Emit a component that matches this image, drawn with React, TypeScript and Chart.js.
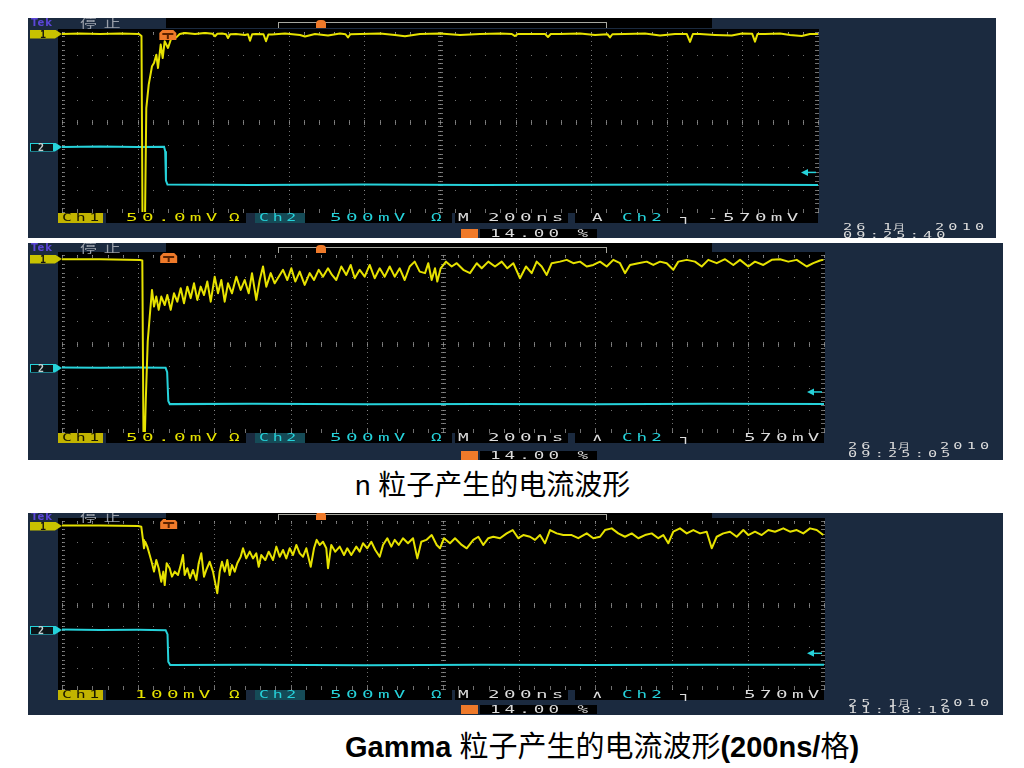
import React, { useEffect, useRef } from "react";
import { Chart, registerables } from "chart.js";
Chart.register(...registerables);

type Pt = [number, number];

// x: time in ns (200 ns/div, 10 div); y: screen divisions (-4..4)
const TIME_MIN = 0;
const TIME_MAX = 2000;
const DIV_MIN = -4;
const DIV_MAX = 4;

// ---- n particle, fast recovery (panel 1) ----
const nFastCh1: Pt[] = [
  [0, 3.91], [47.6, 3.93], [100.5, 3.91], [153.4, 3.93], [203.7, 3.91], [210.3, 3.82], [213, -4.3], [219.6, -4.3],
  [223, 0.62], [229.4, 1.66], [238.1, 2.48], [243.4, 2.62], [249.5, 2.99], [254, 2.4], [261.1, 3.44], [266.4, 2.84],
  [271.7, 3.59], [280.4, 3.29], [289.2, 3.73], [302.4, 3.76], [311.4, 3.91], [324.6, 3.96], [351.9, 3.91], [378.3, 3.96],
  [398, 3.92], [404.8, 3.81], [411, 3.92], [423.3, 3.93], [434, 3.9], [439.2, 3.73], [445, 3.9], [460.3, 3.91],
  [484.1, 3.87], [492, 3.9], [497.4, 3.61], [503, 3.9], [513.2, 3.91], [533, 3.9], [539.7, 3.59], [546, 3.89],
  [555.6, 3.89], [590, 3.93], [629.6, 3.87], [642.9, 3.8], [669.3, 3.91], [703.7, 3.84], [735.4, 3.93], [750, 3.9],
  [756.6, 3.76], [763, 3.9], [788.4, 3.91], [841.3, 3.93], [881, 3.87], [907.4, 3.81], [947.1, 3.91], [1000, 3.93],
  [1052.9, 3.87], [1105.8, 3.91], [1158.7, 3.93], [1190, 3.91], [1198.4, 3.82], [1206, 3.91], [1238.1, 3.91], [1278, 3.91],
  [1285.7, 3.78], [1293, 3.91], [1317.5, 3.91], [1370.4, 3.93], [1410.1, 3.87], [1443, 3.9], [1449.7, 3.76], [1456, 3.9],
  [1489.4, 3.91], [1542.3, 3.93], [1582, 3.84], [1621.7, 3.91], [1653, 3.91], [1661.4, 3.56], [1669, 3.91], [1687.8, 3.91],
  [1727.5, 3.87], [1771.7, 3.84], [1798.9, 3.93], [1826, 3.92], [1833.3, 3.57], [1840, 3.91], [1859.8, 3.91], [1899.5, 3.93],
  [1925.9, 3.87], [1956.9, 3.82], [1978.8, 3.91], [2000, 3.91],
];
const nFastCh2: Pt[] = [
  [0, -1.11], [100, -1.09], [200, -1.11], [270, -1.1], [273, -1.3], [275, -2.6], [279, -2.78], [500, -2.8],
  [800, -2.78], [1100, -2.8], [1400, -2.79], [1700, -2.78], [2000, -2.8],
];

// ---- n particle, slow recovery (panel 2) ----
const nSlowCh1: Pt[] = [
  [0, 3.81], [99.7, 3.81], [204.7, 3.77], [210.8, 3.75], [213.9, -4.4], [217.1, -4.4], [220, -2.5], [225, 0.1],
  [230.2, 1.21], [236.2, 2.42], [241.5, 1.67], [247.5, 2.12], [253.8, 1.52], [260.6, 2.12], [269.6, 1.74], [276.4, 2.19],
  [285.3, 1.52], [294, 2.27], [302.6, 1.89], [311.6, 2.5], [320.2, 1.82], [328.9, 2.57], [337.8, 2.05], [346.5, 2.72],
  [355.1, 1.97], [364, 2.57], [372.7, 2.19], [381.4, 2.8], [390.3, 1.89], [400.8, 3.02], [409.5, 2.27], [418.1, 2.87],
  [427, 1.89], [435.7, 2.72], [446.2, 2.27], [457.5, 3.02], [469, 2.42], [479.5, 2.87], [490, 2.27], [498.7, 3.18],
  [510, 1.97], [518.9, 2.87], [527.6, 3.48], [536.2, 2.57], [547.8, 3.18], [558.3, 2.72], [568.8, 3.02], [580.1, 3.33],
  [591.4, 2.87], [601.9, 3.4], [612.3, 2.8], [623.9, 3.25], [637, 2.65], [650.1, 3.18], [661.4, 2.87], [673.7, 3.33],
  [685, 3.02], [698.2, 3.4], [708.7, 3.1], [719.9, 2.87], [733.1, 3.48], [746.2, 3.1], [757.8, 3.55], [768.3, 2.95],
  [781.4, 3.33], [794.5, 3.02], [807.6, 3.55], [820.7, 2.95], [833.9, 3.4], [847, 3.02], [860.1, 3.48], [873.2, 3.02],
  [886.4, 3.4], [899.5, 2.87], [912.6, 3.48], [925.7, 3.7], [938.9, 3.25], [952.8, 3.18], [961.4, 3.63], [970.3, 2.87],
  [979, 3.4], [985, 2.8], [993.9, 3.4], [1007.9, 3.7], [1022.8, 3.48], [1036, 3.63], [1053.3, 3.33], [1070.9, 3.18],
  [1088.5, 3.63], [1101.6, 3.4], [1118.9, 3.7], [1136.5, 3.48], [1154.1, 3.7], [1168.8, 3.4], [1184.5, 3.63], [1202.1, 2.95],
  [1217.8, 3.48], [1232.8, 3.18], [1245.9, 3.7], [1259, 3.48], [1272.2, 3.1], [1285.3, 3.63], [1307.1, 3.7], [1324.7, 3.78],
  [1342, 3.63], [1359.6, 3.7], [1377.2, 3.48], [1394.5, 3.55], [1412.1, 3.7], [1429.7, 3.48], [1447, 3.78], [1464.6, 3.63],
  [1477.7, 3.18], [1490.8, 3.55], [1512.6, 3.63], [1534.7, 3.7], [1552, 3.55], [1569.6, 3.7], [1587.2, 3.63], [1604.5, 3.33],
  [1617.6, 3.7], [1639.7, 3.78], [1661.4, 3.7], [1679, 3.48], [1696.3, 3.78], [1718.4, 3.63], [1740.2, 3.81], [1762, 3.55],
  [1779.5, 3.78], [1801.3, 3.48], [1818.9, 3.7], [1840.7, 3.55], [1862.8, 3.78], [1884.5, 3.81], [1906.3, 3.7], [1928.4, 3.78],
  [1954.6, 3.48], [1971.9, 3.63], [1989.5, 3.75], [1998.2, 3.78],
];
const nSlowCh2: Pt[] = [
  [0, -1.08], [100, -1.1], [200, -1.09], [272, -1.1], [276, -1.3], [279, -2.6], [283, -2.74], [500, -2.72],
  [800, -2.75], [1100, -2.73], [1400, -2.75], [1700, -2.72], [2000, -2.74],
];

// ---- gamma (panel 3) ----
const gammaCh1: Pt[] = [
  [0, 3.78], [100, 3.78], [200, 3.76], [208.1, 3.73], [212.6, 3.1], [215.2, 2.7], [218.6, 3.01], [223.9, 2.78],
  [230.2, 2.38], [236.2, 1.99], [241.5, 1.59], [247.5, 2.14], [253.8, 1.75], [260.6, 1.11], [265.9, 1.59], [269.6, 0.95],
  [274.8, 1.99], [282.7, 1.75], [288.7, 1.35], [295.8, 1.59], [304.5, 1.43], [311.6, 1.9], [317.6, 2.38], [322, 1.43],
  [328.9, 1.75], [336, 1.27], [343.8, 1.67], [352.5, 1.19], [358.8, 1.99], [365.6, 2.46], [372.7, 1.35], [378.7, 1.67],
  [387.7, 2.06], [396.3, 1.59], [402.4, 1.03], [407.6, 0.56], [413.9, 1.59], [419.9, 2.06], [427, 1.59], [433.9, 2.14],
  [440.2, 1.43], [446.2, 1.9], [453.3, 1.59], [460.1, 1.99], [469, 2.3], [475.1, 2.7], [483.7, 2.22], [492.7, 2.54],
  [501.3, 2.22], [510, 2.46], [516.3, 1.82], [523.1, 2.38], [533.6, 2.14], [542.5, 2.54], [553.8, 2.14], [562.5, 2.78],
  [571.4, 2.3], [580.1, 2.62], [588.7, 2.22], [597.6, 2.7], [606.3, 2.38], [615, 2.86], [623.9, 2.46], [632.6, 2.3],
  [641.2, 2.7], [652.8, 1.82], [661.4, 2.7], [668.5, 3.1], [676.4, 2.86], [685, 3.01], [693.7, 2.7], [698.2, 1.75],
  [706.8, 2.86], [717.3, 2.54], [728.9, 2.78], [740.2, 2.38], [748.8, 2.7], [759.3, 2.38], [772.4, 2.78], [781.4, 2.54],
  [790, 2.94], [801.3, 2.7], [811.8, 3.01], [822.3, 2.62], [833.9, 2.3], [842.5, 2.86], [853.8, 3.18], [864.3, 2.78],
  [873.2, 3.1], [883.7, 2.86], [895, 3.18], [908.1, 2.94], [921.3, 3.18], [932.6, 2.22], [943.1, 3.01], [956.2, 3.1],
  [970.3, 3.33], [983.5, 2.86], [992.1, 2.7], [1002.6, 3.18], [1018.4, 2.94], [1031.5, 3.18], [1049.1, 2.86], [1062.2, 2.7],
  [1079.5, 3.1], [1092.7, 3.25], [1105.8, 2.86], [1118.9, 3.18], [1132, 3.25], [1149.6, 3.18], [1167.2, 3.41], [1182.9, 3.57],
  [1197.6, 3.18], [1210.8, 3.33], [1228.4, 3.25], [1241.5, 3.1], [1254.6, 3.33], [1267.7, 2.94], [1280.9, 3.57], [1298.4, 3.41],
  [1315.8, 3.33], [1337.8, 3.33], [1355.1, 3.18], [1377.2, 3.41], [1394.5, 3.18], [1412.1, 3.25], [1425.2, 3.57], [1442.8, 3.65],
  [1460.1, 3.41], [1477.7, 3.25], [1495.3, 3.41], [1512.6, 3.18], [1530.2, 3.33], [1547.8, 3.41], [1565.1, 3.18], [1578.2, 3.33],
  [1591.3, 2.94], [1604.5, 3.49], [1622, 3.65], [1639.7, 3.41], [1657, 3.57], [1674.6, 3.41], [1692.1, 3.49], [1705.3, 2.7],
  [1718.4, 3.25], [1735.7, 3.41], [1753.3, 3.49], [1770.9, 3.25], [1788.2, 3.57], [1801.3, 3.33], [1818.9, 3.49], [1836.5, 3.33],
  [1853.8, 3.57], [1871.4, 3.49], [1893.2, 3.65], [1910.8, 3.49], [1928.4, 3.57], [1945.7, 3.41], [1963.3, 3.65], [1980.9, 3.57],
  [1998.2, 3.33],
];
const gammaCh2: Pt[] = [
  [0, -1.17], [100, -1.19], [200, -1.18], [272, -1.2], [277, -1.4], [279, -2.7], [284, -2.86], [500, -2.84],
  [800, -2.87], [1100, -2.85], [1400, -2.86], [1700, -2.84], [2000, -2.85],
];

const triggerLevels = [-2.24, -2.19, -2.3]; // divisions
const triggerTimes = [280, 280, 280]; // ns

// ---- texts ----
const ch1Scales = ["50.0mV", "50.0mV", "100mV"];
const ch2Scale = "500mV";
const timeBase = "200ns";
const trigModes = ["A", "\u2227", "\u2227"];
const trigLevelTexts = ["-570mV", "570mV", "570mV"];
const dateDays = ["26 1", "26 1", "25 1"];
const dateMonth = "月";
const dateYears = ["2010", "2010", "2010"];
const clockTexts = ["09:25:40", "09:25:05", "11:18:16"];
const trigPosText = "14.00 %";
const caption1 = "n 粒子产生的电流波形";

// ---- colours ----
const NAVY = "#1b2a3f";
const YELLOW = "#e6e200";
const CYAN = "#26d2da";
const ORANGE = "#ef7a2a";
const WHITE = "#dcdcdc";
const TEAL = "#154b57";
const CH1BOX = "#c2b400";

const PANEL_LEFT = 28;

type Spec = {
  top: number; width: number; height: number; grid: [number, number, number, number];
  topBar: number; status: number; dateX: number; date1: number; date2: number; pctRow: number;
  m1: number; m2: number; ch1X: number; levelX: number;
};
const panelLayouts: Spec[] = [
  { top: 18, width: 968, height: 220, grid: [62, 32, 818, 212], topBar: 10, status: 213, dateX: 843, date1: 224, date2: 232, pctRow: 229, m1: 34, m2: 147, ch1X: 126, levelX: 707 },
  { top: 243, width: 975, height: 217, grid: [62, 255, 824, 432], topBar: 10, status: 433, dateX: 848, date1: 443, date2: 451, pctRow: 451, m1: 259, m2: 368, ch1X: 126, levelX: 744 },
  { top: 513, width: 975, height: 202, grid: [62, 521, 824, 689], topBar: 7, status: 690, dateX: 848, date1: 700, date2: 707, pctRow: 705, m1: 526, m2: 630, ch1X: 135, levelX: 744 },
];

function makeScopePlugin(trigLevel: number, trigTime: number) {
  return {
    id: "scopeGraticule",
    beforeDraw(chart: any) {
      const { ctx, chartArea: a } = chart;
      ctx.save();
      ctx.fillStyle = "#000";
      ctx.fillRect(a.left - 4, a.top - 3, a.right - a.left + 5, a.bottom - a.top + 4);
      ctx.restore();
    },
    beforeDatasetsDraw(chart: any) {
      const { ctx, chartArea: a, scales } = chart;
      const xs = scales.x, ys = scales.y;
      ctx.save();
      ctx.fillStyle = "rgba(150,150,150,0.75)";
      const majX: number[] = [];
      for (let i = 0; i <= 10; i++) majX.push(Math.round(xs.getPixelForValue(i * 200)));
      const majY: number[] = [];
      for (let k = 0; k <= 8; k++) majY.push(Math.round(ys.getPixelForValue(-4 + k)));
      const minX: number[] = [];
      for (let m = 0; m <= 50; m++) minX.push(Math.round(xs.getPixelForValue(m * 40)));
      const minY: number[] = [];
      for (let j = 0; j <= 40; j++) minY.push(Math.round(ys.getPixelForValue(-4 + j * 0.2)));
      majX.forEach((px) => minY.forEach((py) => ctx.fillRect(px, py, 1, 1)));
      majY.forEach((py) => minX.forEach((px) => ctx.fillRect(px, py, 1, 1)));
      const cx = majX[5], cy = majY[4];
      minY.forEach((py) => ctx.fillRect(cx - 2, py, 5, 1));
      minX.forEach((px) => ctx.fillRect(px, cy - 2, 1, 5));
      minY.forEach((py) => { ctx.fillRect(a.left, py, 3, 1); ctx.fillRect(a.right - 3, py, 3, 1); });
      minX.forEach((px) => { ctx.fillRect(px, a.top, 1, 3); ctx.fillRect(px, a.bottom - 3, 1, 3); });
      ctx.restore();
    },
    afterDatasetsDraw(chart: any) {
      const { ctx, chartArea: a, scales } = chart;
      const xs = scales.x, ys = scales.y;
      ctx.save();
      const ty = ys.getPixelForValue(trigLevel);
      ctx.strokeStyle = CYAN;
      ctx.fillStyle = CYAN;
      ctx.lineWidth = 1.5;
      ctx.beginPath();
      ctx.moveTo(a.right - 11, ty);
      ctx.lineTo(a.right - 2, ty);
      ctx.stroke();
      ctx.beginPath();
      ctx.moveTo(a.right - 17, ty);
      ctx.lineTo(a.right - 10, ty - 3.5);
      ctx.lineTo(a.right - 10, ty + 3.5);
      ctx.closePath();
      ctx.fill();
      const tx = xs.getPixelForValue(trigTime);
      ctx.fillStyle = ORANGE;
      ctx.beginPath();
      const w = 17, h = 10, x0 = tx - w / 2, y0 = a.top - 2;
      ctx.moveTo(x0 + 3, y0);
      ctx.lineTo(x0 + w - 3, y0);
      ctx.lineTo(x0 + w, y0 + 3);
      ctx.lineTo(x0 + w, y0 + h);
      ctx.lineTo(x0, y0 + h);
      ctx.lineTo(x0, y0 + 3);
      ctx.closePath();
      ctx.fill();
      ctx.fillStyle = "#5a2200";
      ctx.fillRect(x0 + 3, y0 + 3, w - 6, 2);
      ctx.fillRect(tx - 1, y0 + 3, 2, 6);
      ctx.restore();
    },
  };
}

const monoFamily = '"DejaVu Sans Mono", monospace';

function ST(props: { x: number; y: number; color: string; text: string; size?: number; sx?: number; ls?: number; family?: string }) {
  const size = props.size ?? 11;
  return (
    <span
      style={{
        position: "absolute",
        left: props.x - PANEL_LEFT,
        top: props.y,
        fontFamily: props.family ?? monoFamily,
        fontSize: size,
        lineHeight: `${size - 1}px`,
        color: props.color,
        letterSpacing: `${props.ls ?? 2.5}px`,
        transform: `scaleX(${props.sx ?? 1.6})`,
        transformOrigin: "0 0",
        whiteSpace: "pre",
      }}
    >
      {props.text}
    </span>
  );
}

function Box(props: { x: number; y: number; w: number; h: number; bg: string }) {
  return <div style={{ position: "absolute", left: props.x - PANEL_LEFT, top: props.y, width: props.w, height: props.h, background: props.bg }} />;
}

function ScopePanel(props: { idx: number; spec: Spec; ch1: Pt[]; ch2: Pt[] }) {
  const ref = useRef<HTMLCanvasElement>(null);
  const { spec, idx } = props;
  const [gl, gt, gr, gb] = spec.grid;
  const rel = (y: number) => y - spec.top;

  useEffect(() => {
    const canvas = ref.current;
    if (!canvas) return;
    const chart = new Chart(canvas, {
      type: "line",
      data: {
        datasets: [
          {
            data: props.ch1.map(([x, y]) => ({ x, y })),
            borderColor: YELLOW,
            borderWidth: 2,
            pointRadius: 0,
            tension: 0,
            borderJoinStyle: "round",
          },
          {
            data: props.ch2.map(([x, y]) => ({ x, y })),
            borderColor: CYAN,
            borderWidth: 2,
            pointRadius: 0,
            tension: 0,
          },
        ],
      },
      options: {
        responsive: false,
        animation: false,
        events: [],
        devicePixelRatio: 1,
        layout: {
          padding: {
            left: gl - PANEL_LEFT,
            top: gt - spec.top,
            right: spec.width - (gr - PANEL_LEFT),
            bottom: spec.height - (gb - spec.top),
          },
        },
        scales: {
          x: { type: "linear", min: TIME_MIN, max: TIME_MAX, display: false },
          y: { type: "linear", min: DIV_MIN, max: DIV_MAX, display: false },
        },
        plugins: { legend: { display: false }, tooltip: { enabled: false } },
      },
      plugins: [makeScopePlugin(triggerLevels[idx], triggerTimes[idx])],
    } as any);
    return () => chart.destroy();
  }, []);

  const sRow = rel(spec.status);
  const rowH = 10;
  const tb = spec.topBar;
  const m1Top = rel(spec.m1) - 4.5;
  const m2Top = rel(spec.m2) - 4.5;
  const dX = spec.dateX;
  const wide = 1.75;

  return (
    <div
      style={{
        position: "absolute",
        left: PANEL_LEFT,
        top: spec.top,
        width: spec.width,
        height: spec.height,
        background: NAVY,
        overflow: "hidden",
      }}
    >
      <canvas ref={ref} width={spec.width} height={spec.height} style={{ position: "absolute", left: 0, top: 0, width: spec.width, height: spec.height }} />

      {/* top bar */}
      <Box x={166} y={0} w={546} h={tb} bg="#000" />
      <span style={{ position: "absolute", left: 3, top: tb / 2 - 6, fontFamily: '"DejaVu Sans"', fontWeight: 700, fontSize: 10, lineHeight: "12px", color: "#5b46d8", letterSpacing: "1px" }}>Tek</span>
      <span style={{ position: "absolute", left: 52, top: tb / 2 - 7, fontFamily: '"Noto Sans CJK SC"', fontSize: 12, lineHeight: "14px", color: "#9aa0aa", letterSpacing: "5px", transform: "scaleX(1.4)", transformOrigin: "0 0" }}>停止</span>
      <div style={{ position: "absolute", left: 278 - PANEL_LEFT, top: tb - 6, width: 329, height: 6, borderTop: "1px solid #a8a8a0", borderLeft: "1px solid #a8a8a0", borderRight: "1px solid #a8a8a0", boxSizing: "border-box" }} />
      <div style={{ position: "absolute", left: 316 - PANEL_LEFT, top: tb - 8, width: 10, height: 8, background: ORANGE, borderRadius: "4px 4px 0 0" }} />

      {/* channel ground markers */}
      <div style={{ position: "absolute", left: 2, top: m1Top, width: 32, height: 9, background: "#c8c200", clipPath: "polygon(0 0, 78% 0, 100% 50%, 78% 100%, 0 100%)" }} />
      <span style={{ position: "absolute", left: 12, top: m1Top - 1, fontFamily: monoFamily, fontWeight: 700, fontSize: 10, lineHeight: "11px", color: "#111" }}>1</span>
      <div style={{ position: "absolute", left: 2, top: m2Top, width: 32, height: 9, background: CYAN, clipPath: "polygon(0 0, 78% 0, 100% 50%, 78% 100%, 0 100%)" }} />
      <div style={{ position: "absolute", left: 3, top: m2Top + 1, width: 22, height: 7, background: "#0b1418" }} />
      <span style={{ position: "absolute", left: 10, top: m2Top - 1, fontFamily: monoFamily, fontWeight: 700, fontSize: 10, lineHeight: "11px", color: "#c8d0d0" }}>2</span>

      {/* status row */}
      <Box x={58} y={sRow} w={45} h={rowH} bg={CH1BOX} />
      <ST x={62} y={sRow} color="#1a1800" text="Ch1" sx={1.5} />
      <Box x={106} y={sRow} w={140} h={rowH} bg="#000" />
      <ST x={spec.ch1X} y={sRow} color={YELLOW} text={ch1Scales[idx]} sx={wide} />
      <ST x={229} y={sRow} color={YELLOW} text={"\u03A9"} />
      <Box x={255} y={sRow} w={50} h={rowH} bg={TEAL} />
      <ST x={259} y={sRow} color={CYAN} text="Ch2" sx={1.5} />
      <Box x={305} y={sRow} w={147} h={rowH} bg="#000" />
      <ST x={330} y={sRow} color={CYAN} text={ch2Scale} sx={wide} />
      <ST x={431} y={sRow} color={CYAN} text={"\u03A9"} />
      <Box x={455} y={sRow} w={113} h={rowH} bg="#000" />
      <ST x={458} y={sRow} color={WHITE} text="M" />
      <ST x={488} y={sRow} color={WHITE} text={timeBase} sx={wide} />
      <Box x={575} y={sRow} w={gr - 575} h={rowH} bg="#000" />
      <ST x={592} y={sRow} color={WHITE} text={trigModes[idx]} />
      <ST x={622} y={sRow} color={CYAN} text="Ch2" />
      <ST x={680} y={sRow} color={WHITE} text={"\u2510"} />
      <ST x={spec.levelX} y={sRow} color={WHITE} text={trigLevelTexts[idx]} sx={wide} />

      {/* trigger position row */}
      <Box x={461} y={rel(spec.pctRow)} w={17} h={9} bg={ORANGE} />
      <Box x={480} y={rel(spec.pctRow)} w={117} h={9} bg="#000" />
      <ST x={490} y={rel(spec.pctRow)} color={WHITE} text={trigPosText} />

      {/* date/time */}
      <ST x={dX} y={rel(spec.date1)} color={WHITE} text={dateDays[idx]} size={8} sx={1.9} ls={2.2} />
      <ST x={dX + 50} y={rel(spec.date1) - 1} color={WHITE} text={dateMonth} size={8} sx={1.5} ls={0} family='"Noto Sans CJK SC"' />
      <ST x={dX + 92} y={rel(spec.date1)} color={WHITE} text={dateYears[idx]} size={8} sx={1.9} ls={2.2} />
      <ST x={dX} y={rel(spec.date2)} color={WHITE} text={clockTexts[idx]} size={8} sx={1.9} ls={2.2} />
    </div>
  );
}

export default function App() {
  const series: [Pt[], Pt[]][] = [
    [nFastCh1, nFastCh2],
    [nSlowCh1, nSlowCh2],
    [gammaCh1, gammaCh2],
  ];
  return (
    <div style={{ position: "fixed", left: 0, top: 0, width: 1024, height: 768, background: "#fff", overflow: "hidden" }}>
      {panelLayouts.map((spec, i) => (
        <ScopePanel key={i} idx={i} spec={spec} ch1={series[i][0]} ch2={series[i][1]} />
      ))}
      <div style={{ position: "absolute", left: 355, top: 472, fontFamily: '"Liberation Sans", "Noto Sans CJK SC", sans-serif', fontSize: 28, lineHeight: "28px", color: "#000", whiteSpace: "nowrap" }}>
        {caption1}
      </div>
      <div style={{ position: "absolute", left: 345, top: 733, fontFamily: '"Liberation Sans", "Noto Sans CJK SC", sans-serif', fontSize: 29, lineHeight: "29px", color: "#000", whiteSpace: "nowrap" }}>
        <span style={{ fontWeight: 700 }}>Gamma</span> 粒子产生的电流波形<span style={{ fontWeight: 700 }}>(200ns/</span>格<span style={{ fontWeight: 700 }}>)</span>
      </div>
    </div>
  );
}
